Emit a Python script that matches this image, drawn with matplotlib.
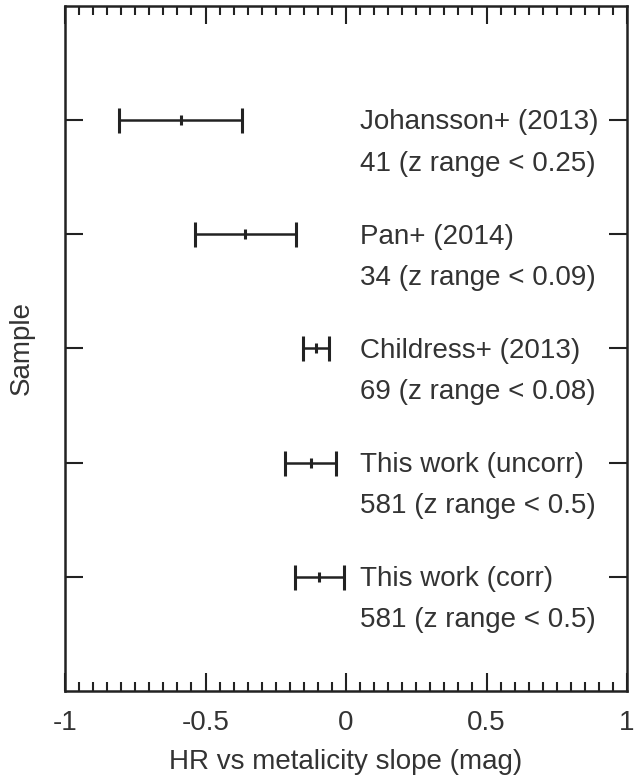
import numpy as np
import matplotlib.pyplot as plt
from matplotlib.ticker import MultipleLocator, FuncFormatter

plt.rcParams['font.family'] = ['Liberation Sans', 'DejaVu Sans']

# ===========================
# Dados
# ===========================
amostras = ["Johansson+ (2013)", "Pan+ (2014)", "Childress+ (2013)",
            "This work (uncorr)", "This work (corr)"]
detalhes = ["41 (z range < 0.25)", "34 (z range < 0.09)", "69 (z range < 0.08)",
            "581 (z range < 0.5)", "581 (z range < 0.5)"]
inclinacao = [-0.588, -0.359, -0.106, -0.126, -0.095]
erro = [0.219, 0.180, 0.047, 0.090, 0.088]
posicao_y = [5, 4, 3, 2, 1]

cor_texto = '#333333'
cor_linha = '#222222'

fig = plt.figure(figsize=(6.35, 7.77), dpi=100)
ax = fig.add_axes([0.1024, 0.1107, 0.8850, 0.8816])

ax.errorbar(inclinacao, posicao_y, xerr=erro, fmt='|', color=cor_linha,
            ecolor=cor_linha, elinewidth=1.8, capsize=9, capthick=1.8,
            markersize=7, markeredgewidth=2.2)

for y, nome, det in zip(posicao_y, amostras, detalhes):
    ax.text(0.05, y - 0.02, nome, fontsize=20, color=cor_texto, va='center', ha='left')
    ax.text(0.05, y - 0.38, det, fontsize=20, color=cor_texto, va='center', ha='left')

ax.set_xlim(-1, 1)
ax.set_ylim(0, 6)
ax.xaxis.set_major_locator(MultipleLocator(0.5))
ax.xaxis.set_minor_locator(MultipleLocator(0.05))
ax.xaxis.set_major_formatter(FuncFormatter(lambda v, p: f"{v:g}".replace('\u2212', '-')))
ax.set_yticks(posicao_y)
ax.set_yticklabels([])

ax.tick_params(axis='both', which='major', direction='in', length=13, width=1.5,
               top=True, right=True, color=cor_linha, labelsize=20,
               labelcolor=cor_texto, pad=14)
ax.tick_params(axis='x', which='minor', direction='in', length=6.5, width=1.5,
               top=True, color=cor_linha)
for s in ax.spines.values():
    s.set_linewidth(1.8)
    s.set_color(cor_linha)

ax.set_xlabel("HR vs metalicity slope (mag)", fontsize=20, color=cor_texto, labelpad=9)
ax.set_ylabel("Sample", fontsize=20, color=cor_texto, va='center')
ax.yaxis.set_label_coords(-0.0765, 0.5)

fig.savefig("out.png", dpi=100)
